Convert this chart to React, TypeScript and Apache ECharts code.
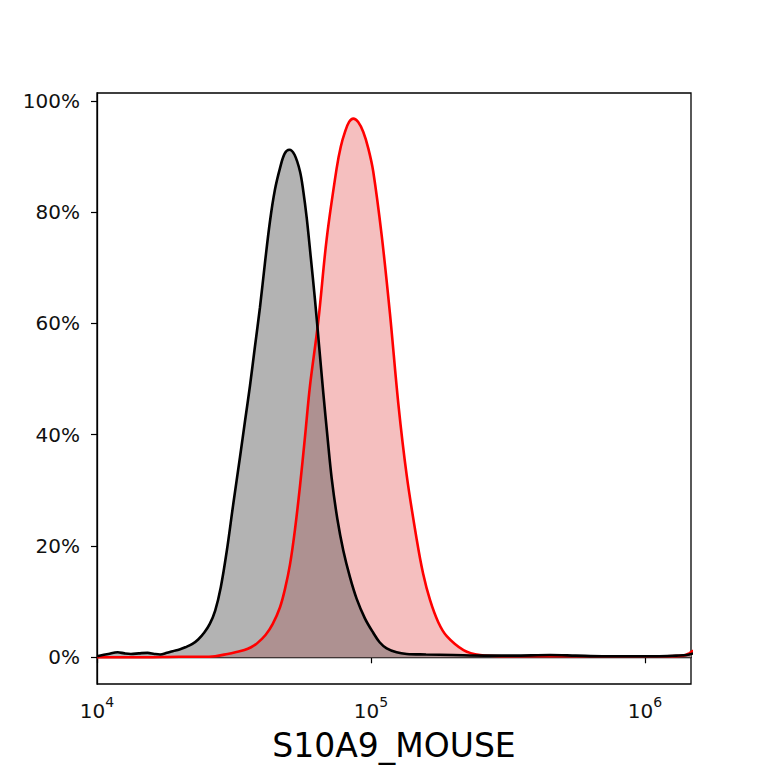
import React, { useEffect, useRef } from "react";
import * as echarts from "echarts";

const controlX = [10000, 11000, 11900, 12600, 13300, 14200, 15300, 16200, 17000, 18000, 18900, 20000, 21000, 22300, 23400, 24600, 25800, 27000, 28300, 29740, 31400, 33260, 34700, 36170, 37700, 39340, 41000, 42800, 44600, 46550, 48400, 50330, 52600, 55070, 56600, 58250, 60300, 62470, 64700, 66970, 69400, 71890, 75400, 79230, 83800, 88670, 95000, 101900, 107500, 114100, 124000, 135000, 158800, 200000, 260000, 330000, 450000, 560000, 700000, 900000, 1100000, 1300000, 1420000, 1500000];
const controlY = [0.2, 0.6, 0.9, 0.7, 0.6, 0.7, 0.8, 0.6, 0.5, 0.8, 1.1, 1.4, 1.8, 2.4, 3.2, 4.4, 6.0, 8.4, 12.6, 19.0, 27.4, 36.0, 42.5, 48.8, 55.8, 62.9, 70.8, 78.4, 84.0, 87.9, 90.5, 91.2, 90.3, 87.3, 83.8, 79.0, 71.8, 64.2, 55.8, 47.5, 39.5, 32.1, 24.8, 19.2, 14.4, 10.5, 7.0, 4.4, 2.7, 1.6, 0.9, 0.6, 0.5, 0.4, 0.3, 0.3, 0.4, 0.3, 0.2, 0.2, 0.2, 0.3, 0.4, 0.7];

const s10a9X = [10000, 15000, 20000, 24000, 27000, 29960, 32000, 34510, 36500, 38370, 41210, 43800, 46550, 48500, 50630, 52800, 55070, 57400, 59900, 64220, 68910, 74950, 77600, 80380, 83200, 86180, 89800, 93730, 97700, 101900, 109400, 117300, 125800, 135000, 146800, 155000, 164200, 176000, 189000, 217600, 250000, 300000, 400000, 600000, 900000, 1200000, 1380000, 1450000, 1500000];
const s10a9Y = [0.0, 0.0, 0.1, 0.1, 0.2, 0.6, 0.9, 1.3, 1.8, 2.5, 4.0, 6.0, 9.0, 12.2, 16.7, 23.0, 30.8, 39.5, 48.8, 60.4, 75.2, 87.9, 91.8, 94.4, 96.2, 96.8, 96.2, 94.4, 91.5, 87.3, 75.8, 61.7, 45.6, 32.7, 21.2, 15.0, 10.3, 6.3, 3.8, 1.3, 0.4, 0.2, 0.2, 0.2, 0.2, 0.2, 0.3, 0.7, 1.2];

const yTicks = [0, 20, 40, 60, 80, 100];
const xTicks = [10000, 100000, 1000000];
const xTitle = "S10A9_MOUSE";

const FONT = "DejaVu Sans";

function pairs(xs: number[], ys: number[]) {
  return xs.map((x, i) => [x, ys[i]]);
}

function Chart() {
  const ref = useRef<HTMLDivElement>(null);
  useEffect(() => {
    if (!ref.current) return;
    const chart = echarts.init(ref.current, null, { renderer: "svg" });
    const black = pairs(controlX, controlY);
    const red = pairs(s10a9X, s10a9Y);
    chart.setOption({
      animation: false,
      backgroundColor: "#ffffff",
      grid: {
        left: 97,
        right: 77,
        top: 93,
        bottom: 84,
        show: true,
        borderColor: "#000",
        borderWidth: 1.3,
        backgroundColor: "transparent",
      },
      xAxis: {
        type: "log",
        logBase: 10,
        min: 10000,
        max: 1472000,
        name: xTitle,
        nameLocation: "middle",
        nameGap: 45,
        nameTextStyle: { fontFamily: FONT, fontSize: 33, color: "#000" },
        axisLine: { show: true, lineStyle: { color: "#000", width: 1.3 } },
        axisTick: { show: true, inside: false, length: 6, customValues: xTicks, lineStyle: { color: "#000", width: 1.2 } },
        minorTick: { show: false },
        splitLine: { show: false },
        axisLabel: {
          customValues: xTicks,
          margin: 11,
          formatter: (v: number) => "{b|10}{s|" + Math.round(Math.log10(v)) + "}",
          rich: {
            b: { fontFamily: FONT, fontSize: 20, color: "#111", lineHeight: 26, verticalAlign: "bottom" },
            s: { fontFamily: FONT, fontSize: 14, color: "#111", lineHeight: 16, verticalAlign: "top" },
          },
        },
      },
      yAxis: {
        type: "value",
        min: -4.8,
        max: 101.4,
        axisLine: { show: true, lineStyle: { color: "#000", width: 1.3 } },
        axisTick: { show: true, inside: false, length: 6, customValues: yTicks, lineStyle: { color: "#000", width: 1.2 } },
        splitLine: { show: false },
        axisLabel: {
          customValues: yTicks,
          margin: 17,
          fontFamily: FONT,
          fontSize: 20,
          color: "#111",
          formatter: (v: number) => Math.round(v) + "%",
        },
      },
      series: [
        {
          name: "S10A9_MOUSE fill",
          type: "line",
          data: red,
          smooth: 0.35,
          symbol: "none",
          lineStyle: { width: 0, color: "transparent" },
          areaStyle: { color: "#f5bfbf", opacity: 1, origin: 0 },
          z: 1,
        },
        {
          name: "control fill",
          type: "line",
          data: black,
          smooth: 0.35,
          symbol: "none",
          lineStyle: { width: 0, color: "transparent" },
          areaStyle: { color: "rgba(94,94,94,0.47)", opacity: 1, origin: 0 },
          z: 2,
        },
        {
          name: "S10A9_MOUSE",
          type: "line",
          data: red,
          smooth: 0.35,
          symbol: "none",
          lineStyle: { width: 2.6, color: "#ff0000" },
          z: 3,
        },
        {
          name: "control",
          type: "line",
          data: black,
          smooth: 0.35,
          symbol: "none",
          lineStyle: { width: 2.6, color: "#000000" },
          z: 4,
        },
      ],
    });
    return () => chart.dispose();
  }, []);
  return (
    <div
      ref={ref}
      style={{ position: "fixed", left: 0, top: 0, width: 768, height: 768, background: "#fff" }}
    />
  );
}

export default function App() {
  return <Chart />;
}
